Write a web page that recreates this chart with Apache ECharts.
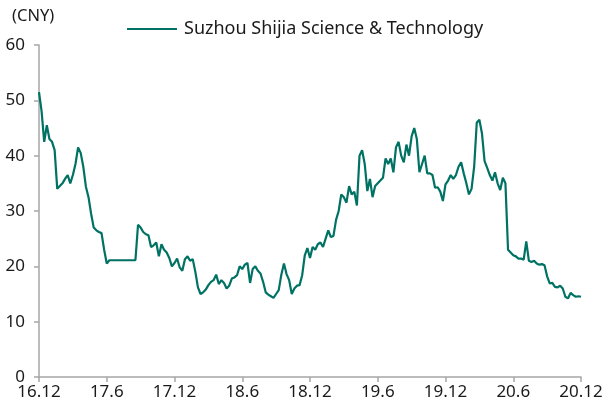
<!DOCTYPE html>
<html>
<head>
<meta charset="utf-8">
<script src="https://cdn.jsdelivr.net/npm/echarts@6/dist/echarts.min.js"></script>
<style>
  html, body { margin: 0; padding: 0; background: #fff; }
  #main { width: 608px; height: 414px; }
</style>
</head>
<body>
<div id="main"></div>
<script>
// weekly closing price, Dec 2016 - Dec 2020
const tickLabels = ['16.12', '17.6', '17.12', '18.6', '18.12', '19.6', '19.12', '20.6', '20.12']
const ticksEvery = 26

const prices = [
  51.5, 48, 42.5, 45.5, 43, 42.5, 41, 34, 34.5, 35,
  35.8, 36.5, 35, 36.5, 38.5, 41.5, 40.5, 38, 34.4, 32.5,
  29.5, 27, 26.5, 26.2, 26, 23, 20.5, 21.1, 21.1, 21.1,
  21.1, 21.1, 21.1, 21.1, 21.1, 21.1, 21.1, 21.1, 27.5, 27,
  26.2, 25.8, 25.6, 23.5, 23.8, 24.3, 21.8, 24, 23, 22.5,
  21.5, 20, 20.6, 21.4, 19.8, 19.2, 21.3, 21.8, 21, 21.3,
  19, 16.2, 15, 15.3, 15.8, 16.6, 17.2, 17.5, 18.5, 16.8,
  17.5, 17, 16, 16.5, 17.8, 18, 18.4, 20, 19.5, 20.3,
  20.6, 17, 19.5, 20, 19.2, 18.7, 17.2, 15.3, 14.9, 14.6,
  14.3, 15, 15.7, 18.5, 20.5, 18.6, 17.5, 15, 16, 16.5,
  16.6, 18.4, 22, 23.3, 21.5, 23.5, 23, 24, 24.3, 23.5,
  25, 26.5, 25.3, 25.5, 28.4, 30, 33, 32.5, 31.5, 34.5,
  33, 33.5, 31, 40, 41, 38.5, 33.6, 35.8, 32.5, 34.5,
  35, 35.5, 36, 39.5, 38.5, 39.5, 37, 41.5, 42.5, 40,
  38.8, 42, 40, 43.5, 45, 43, 37, 38.5, 40, 36.8,
  36.8, 36.5, 34.2, 34.3, 33.5, 31.8, 34.8, 35.5, 36.5, 35.8,
  36.5, 38, 38.8, 36.8, 35, 33, 34, 38, 46, 46.5,
  44, 39, 37.8, 36.5, 35.5, 37, 35, 33.8, 36, 35,
  23, 22.5, 22, 21.8, 21.4, 21.4, 21.2, 24.5, 21, 20.8,
  21, 20.5, 20.3, 20.4, 20.2, 18.2, 16.9, 17, 16.3, 16.2,
  16.5, 16, 14.5, 14.2, 15.2, 14.8, 14.5, 14.6, 14.5
]

const weeks = prices.map((v, i) => (i % ticksEvery === 0 ? tickLabels[i / ticksEvery] : ''))

const font = 'Noto Sans'
const chart = echarts.init(document.getElementById('main'))

const option = {
  animation: false,
  title: {
    text: '(CNY)',
    left: 7,
    top: 3,
    textStyle: { fontFamily: font, fontSize: 16.5, fontWeight: 'normal', color: '#1a1a1a' }
  },
  legend: {
    left: 122,
    top: 15,
    icon: 'rect',
    itemWidth: 50,
    itemHeight: 2,
    textStyle: { fontFamily: font, fontSize: 18, color: '#1a1a1a', padding: [0, 0, 0, 2] },
    data: ['Suzhou Shijia Science & Technology']
  },
  grid: {
    left: 39,
    right: 27,
    top: 45,
    bottom: 37
  },
  xAxis: {
    type: 'category',
    boundaryGap: false,
    data: weeks,
    axisLine: { lineStyle: { color: '#a6a6a6', width: 1.5 } },
    axisTick: { interval: ticksEvery - 1, length: 5, lineStyle: { color: '#a6a6a6', width: 1.5 } },
    axisLabel: { interval: ticksEvery - 1, margin: 7, fontFamily: font, fontSize: 17, color: '#1a1a1a' }
  },
  yAxis: {
    type: 'value',
    min: 0,
    max: 60,
    interval: 10,
    splitLine: { show: false },
    axisLine: { show: true, lineStyle: { color: '#a6a6a6', width: 1.5 } },
    axisTick: { show: true, length: 5, lineStyle: { color: '#a6a6a6', width: 1.5 } },
    axisLabel: { margin: 14, fontFamily: font, fontSize: 17, color: '#1a1a1a' }
  },
  series: [
    {
      name: 'Suzhou Shijia Science & Technology',
      type: 'line',
      data: prices,
      symbol: 'none',
      lineStyle: { color: '#007264', width: 2.2 },
      itemStyle: { color: '#007264' }
    }
  ]
}

chart.setOption(option)
</script>
</body>
</html>
